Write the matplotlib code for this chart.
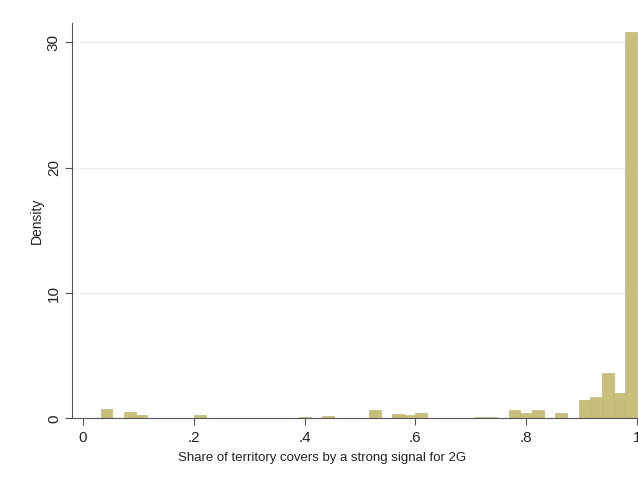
import matplotlib
matplotlib.use('Agg')
import matplotlib.pyplot as plt
import numpy as np

plt.rcParams['font.family'] = ['Liberation Sans', 'DejaVu Sans']

# histogram bins (46 bins from 0.032 to 1.0) and densities
bin_edges = np.linspace(0.032, 1.0, 47)
density = [0.72, 0, 0.53, 0.24, 0, 0, 0, 0, 0.30, 0,
           0, 0.05, 0, 0.05, 0, 0.05, 0, 0.10, 0, 0.18,
           0, 0, 0, 0.64, 0, 0.34, 0.24, 0.42, 0, 0,
           0, 0, 0.10, 0.10, 0, 0.64, 0.45, 0.70, 0, 0.42,
           0, 1.46, 1.72, 3.60, 2.00, 30.8]

xticks = [0, 0.2, 0.4, 0.6, 0.8, 1.0]
xtick_labels = ['0', '.2', '.4', '.6', '.8', '1']
yticks = [0, 10, 20, 30]
ytick_labels = ['0', '10', '20', '30']

fig = plt.figure(figsize=(6.38, 4.8), dpi=100)
ax = fig.add_axes([0.1129, 0.1285, 0.887, 0.8235])

ax.bar(bin_edges[:-1], density, width=np.diff(bin_edges), align='edge',
       color='#c9bf7c', edgecolor='#b8ad68', linewidth=0.4, zorder=2)

ax.set_xlim(-0.0199, 1.0018)
ax.set_ylim(0, 31.55)

for y in yticks[1:]:
    ax.axhline(y, color='#eaf0f0', linewidth=1.0, zorder=1)

ax.set_xticks(xticks)
ax.set_xticklabels(xtick_labels)
ax.set_yticks(yticks)
ax.set_yticklabels(ytick_labels, rotation=90, va='center')
ax.tick_params(axis='both', direction='out', length=5, width=0.8,
               color='#555555', labelsize=11, labelcolor='#222222')
ax.tick_params(axis='x', pad=4)
ax.tick_params(axis='y', pad=3)

for side in ['top', 'right']:
    ax.spines[side].set_visible(False)
for side in ['left', 'bottom']:
    ax.spines[side].set_color('#555555')
    ax.spines[side].set_linewidth(0.8)

ax.set_xlabel('Share of territory covers by a strong signal for 2G',
              fontsize=9.5, color='#222222')
ax.xaxis.set_label_coords(0.442, -0.085)
ax.set_ylabel('Density', fontsize=10, color='#222222')
ax.yaxis.set_label_coords(-0.05, 0.5)

fig.savefig('out.png', dpi=100, facecolor='white')
